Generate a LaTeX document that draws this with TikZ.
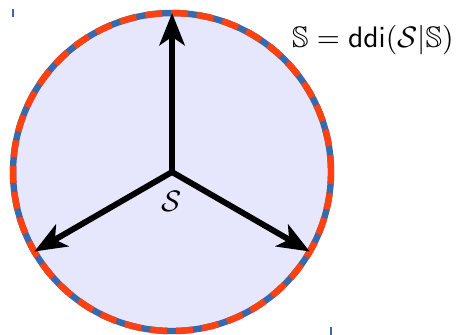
\documentclass[tikz,border=0pt]{standalone}
\usepackage{amssymb}
\usetikzlibrary{arrows.meta}
\definecolor{dashred}{HTML}{FF4010}
\definecolor{dashblue}{HTML}{3A68A8}
\definecolor{discfill}{HTML}{E6E6FC}
\tikzset{
  axisarrow/.style={line width=2.1pt,-{Stealth[length=11.5pt,width=9pt,inset=3pt]}},
  rimline/.style={line width=2.3pt},
  cornermark/.style={dashblue,line width=0.5pt},
}
\begin{document}
\begin{tikzpicture}[x=1cm,y=1cm]
\useasboundingbox (-2.164,-2.038) rectangle (3.572,2.164);
\coordinate (O) at (0,0);
\fill[discfill] (O) circle (2);
\draw[rimline,dashblue] (O) circle (2);
\draw[rimline,dashred,dash pattern=on 6pt off 3.3pt] (O) circle (2);
\coordinate (T) at (90:2);
\coordinate (L) at (210:2);
\coordinate (R) at (330:2);
\draw[axisarrow] (O) -- (T);
\draw[axisarrow] (O) -- (L);
\draw[axisarrow] (O) -- (R);
\node[below=3pt,scale=1.06] (lab) at (O) {$\mathcal{S}$};
\node[anchor=base east,inner sep=0pt,scale=1.06] (eq) at (3.55,1.57) {$\mathbb{S} = \mathsf{ddi}(\mathcal{S}|\mathbb{S})$};
\coordinate (c1a) at (-2,2.045);
\coordinate (c1b) at (-2,1.955);
\coordinate (c2a) at (2,-1.955);
\coordinate (c2b) at (2,-2.045);
\draw[cornermark] (c1a) -- (c1b);
\draw[cornermark] (c2a) -- (c2b);
\end{tikzpicture}
\end{document}
